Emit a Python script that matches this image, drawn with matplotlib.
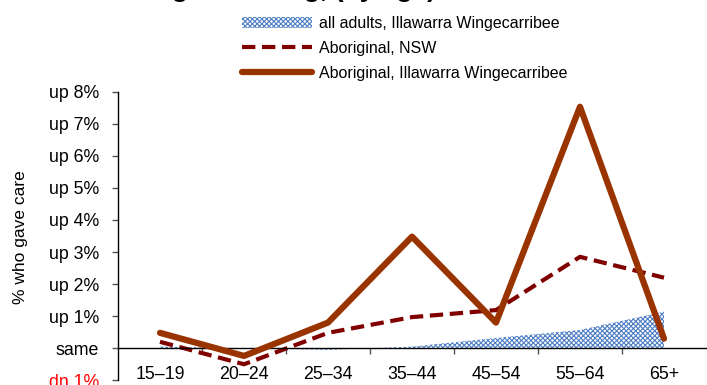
import matplotlib
matplotlib.use("Agg")
import matplotlib.pyplot as plt
from matplotlib.patches import Patch
from matplotlib.lines import Line2D

# =========================
# data
# =========================
ages = ["15–19", "20–24", "25–34", "35–44", "45–54", "55–64", "65+"]
all_adults_iw = [0.05, 0.0, -0.05, 0.05, 0.32, 0.57, 1.14]
aboriginal_nsw = [0.2, -0.5, 0.48, 0.97, 1.19, 2.85, 2.2]
aboriginal_iw = [0.48, -0.24, 0.8, 3.48, 0.8, 7.53, 0.3]
ytick_vals = [-1, 0, 1, 2, 3, 4, 5, 6, 7, 8]
ytick_labels = ["dn 1%", "same", "up 1%", "up 2%", "up 3%", "up 4%",
                "up 5%", "up 6%", "up 7%", "up 8%"]

plt.rcParams["font.family"] = ["Liberation Sans", "DejaVu Sans"]
plt.rcParams["hatch.color"] = "#4f7fc4"
plt.rcParams["hatch.linewidth"] = 0.8

W, H = 707, 385
fig = plt.figure(figsize=(W / 100, H / 100), dpi=100)
ax = fig.add_axes([118 / W, (H - 380.3) / H, (706 - 118) / W, (380.3 - 91.7) / H])

x = list(range(len(ages)))

# =========================
# marks
# =========================
ax.fill_between(x, 0, all_adults_iw, facecolor="white", edgecolor="#4f7fc4",
                hatch="xxxxxxx", linewidth=0, zorder=1)
ax.plot(x, aboriginal_nsw, color="#800000", lw=3, dashes=(3.2, 1.6),
        dash_capstyle="butt", zorder=2)
ax.plot(x, aboriginal_iw, color="#993300", lw=4.5, solid_capstyle="round",
        zorder=3)

# =========================
# axes
# =========================
ax.set_xlim(-0.5, 6.5)
ax.set_ylim(-1, 8)
ax.spines["top"].set_visible(False)
ax.spines["right"].set_visible(False)
ax.spines["bottom"].set_position(("data", 0))
ax.spines["left"].set_linewidth(1)
ax.spines["bottom"].set_linewidth(1)

ax.set_yticks(ytick_vals)
ax.set_yticklabels(ytick_labels, fontsize=12.8)
ax.tick_params(axis="y", length=4.5, width=1, color="#555555", pad=9)
ax.get_yticklabels()[0].set_color("red")

ax.set_xticks(x)
ax.set_xticklabels(ages, fontsize=12.8)
ax.set_xticks([i + 0.5 for i in x[:-1]], minor=True)
ax.tick_params(axis="x", which="major", length=0, pad=13)
ax.tick_params(axis="x", which="minor", length=4.5, width=1, color="#555555")

fig.text(21 / W, 1 - 237 / H, "% who gave care", rotation=90,
         ha="center", va="center", fontsize=12.5)

# title sits mostly above the canvas, only descenders show
fig.text(106 / W, 1.008, "Change in caring, (by age)", fontsize=19,
         weight="bold", ha="left", va="baseline")

# =========================
# legend
# =========================
handles = [
    Patch(facecolor="white", edgecolor="#4f7fc4", hatch="xxxxxxx", linewidth=0),
    Line2D([], [], color="#800000", lw=3, dashes=(3.2, 1.6)),
    Line2D([], [], color="#993300", lw=4.5, solid_capstyle="round"),
]
labels = ["all adults, Illawarra Wingecarribee", "Aboriginal, NSW",
          "Aboriginal, Illawarra Wingecarribee"]
fig.legend(handles, labels, loc="upper left", bbox_to_anchor=(242 / W, 1 - 16 / H),
           frameon=False, fontsize=11.5, handlelength=4.4, handletextpad=0.4,
           labelspacing=0.62, borderpad=0, borderaxespad=0)

fig.savefig("out.png", dpi=100)
